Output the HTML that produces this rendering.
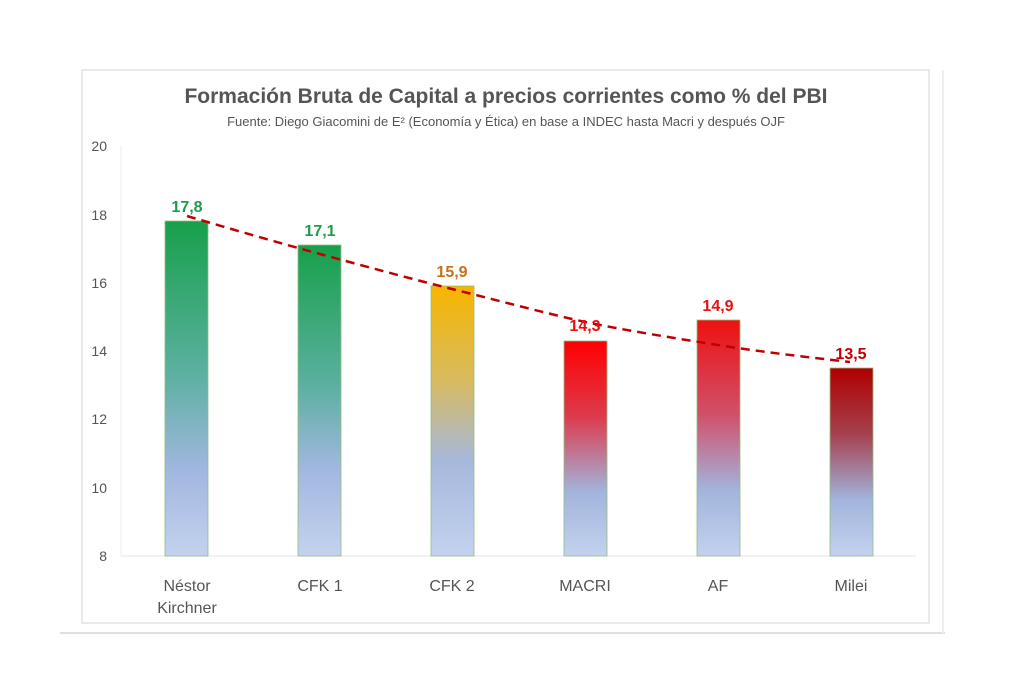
<!DOCTYPE html>
<html><head><meta charset="utf-8"><style>
body{margin:0;background:#fff;}
svg{display:block;font-family:"Liberation Sans","DejaVu Sans",sans-serif;}
</style></head><body>
<svg width="1024" height="679" viewBox="0 0 1024 679">
<defs>
<linearGradient id="g1" gradientUnits="userSpaceOnUse" x1="0" y1="221" x2="0" y2="556">
<stop offset="0" stop-color="#17a04a"/><stop offset="0.45" stop-color="#5bb0a0"/><stop offset="0.75" stop-color="#a2b7e0"/><stop offset="1" stop-color="#c3d2ee"/></linearGradient>
<linearGradient id="g2" gradientUnits="userSpaceOnUse" x1="0" y1="245" x2="0" y2="556">
<stop offset="0" stop-color="#17a04a"/><stop offset="0.45" stop-color="#5bb0a0"/><stop offset="0.72" stop-color="#a2b7e0"/><stop offset="1" stop-color="#c3d2ee"/></linearGradient>
<linearGradient id="g3" gradientUnits="userSpaceOnUse" x1="0" y1="286" x2="0" y2="556">
<stop offset="0" stop-color="#f7b500"/><stop offset="0.35" stop-color="#d8bb60"/><stop offset="0.65" stop-color="#a6b8dc"/><stop offset="1" stop-color="#c3d2ee"/></linearGradient>
<linearGradient id="g4" gradientUnits="userSpaceOnUse" x1="0" y1="341" x2="0" y2="556">
<stop offset="0" stop-color="#ff0000"/><stop offset="0.35" stop-color="#dd3a4c"/><stop offset="0.7" stop-color="#a2b4dc"/><stop offset="1" stop-color="#c3d2ee"/></linearGradient>
<linearGradient id="g5" gradientUnits="userSpaceOnUse" x1="0" y1="320" x2="0" y2="556">
<stop offset="0" stop-color="#ee1111"/><stop offset="0.4" stop-color="#d0506a"/><stop offset="0.72" stop-color="#a2b4dc"/><stop offset="1" stop-color="#c3d2ee"/></linearGradient>
<linearGradient id="g6" gradientUnits="userSpaceOnUse" x1="0" y1="368" x2="0" y2="556">
<stop offset="0" stop-color="#b00000"/><stop offset="0.35" stop-color="#a5404e"/><stop offset="0.7" stop-color="#a2b4dc"/><stop offset="1" stop-color="#c3d2ee"/></linearGradient>
</defs>
<rect x="82" y="70" width="847" height="553" fill="#fff" stroke="#e2e2e2" stroke-width="1.5"/>
<line x1="60" y1="633" x2="945" y2="633" stroke="#e0e0e0" stroke-width="2"/>
<line x1="943" y1="70" x2="943" y2="633" stroke="#eeeeee" stroke-width="2"/>
<text x="506" y="103" text-anchor="middle" font-size="21" font-weight="bold" fill="#555">Formación Bruta de Capital a precios corrientes como % del PBI</text>
<text x="506" y="126" text-anchor="middle" font-size="13" fill="#555">Fuente: Diego Giacomini de E² (Economía y Ética) en base a INDEC hasta Macri y después OJF</text>
<g font-size="14" fill="#555" text-anchor="end">
<text x="107" y="151">20</text><text x="107" y="220">18</text><text x="107" y="288">16</text><text x="107" y="356">14</text><text x="107" y="424">12</text><text x="107" y="493">10</text><text x="107" y="561">8</text>
</g>
<line x1="121" y1="146" x2="121" y2="556" stroke="#eee"/>
<line x1="121" y1="556" x2="916" y2="556" stroke="#e6e6e6"/>
<g stroke="#8fbf7f" stroke-width="0.8">
<rect x="165" y="221" width="43" height="335" fill="url(#g1)"/>
<rect x="298" y="245" width="43" height="311" fill="url(#g2)"/>
<rect x="431" y="286" width="43" height="270" fill="url(#g3)"/>
<rect x="564" y="341" width="43" height="215" fill="url(#g4)"/>
<rect x="697" y="320" width="43" height="236" fill="url(#g5)"/>
<rect x="830" y="368" width="43" height="188" fill="url(#g6)"/>
</g>
<path d="M187 216 C231 229 276 242 320 254 C364 266 408 278 452 289 C496 300 541 312 585 322 C629 331 674 338 718 345 C762 352 806 357 850 362" fill="none" stroke="#c00000" stroke-width="2.5" stroke-dasharray="9 6"/>
<g font-size="16" font-weight="bold" text-anchor="middle">
<text x="187" y="212" fill="#1a9e48">17,8</text>
<text x="320" y="236" fill="#1a9e48">17,1</text>
<text x="452" y="277" fill="#c8701a">15,9</text>
<text x="585" y="331" fill="#e81010">14,3</text>
<text x="718" y="311" fill="#e81010">14,9</text>
<text x="851" y="359" fill="#c00000">13,5</text>
</g>
<g font-size="16" fill="#555" text-anchor="middle">
<text x="187" y="591">Néstor</text><text x="187" y="613">Kirchner</text>
<text x="320" y="591">CFK 1</text>
<text x="452" y="591">CFK 2</text>
<text x="585" y="591">MACRI</text>
<text x="718" y="591">AF</text>
<text x="851" y="591">Milei</text>
</g>
</svg>
</body></html>
